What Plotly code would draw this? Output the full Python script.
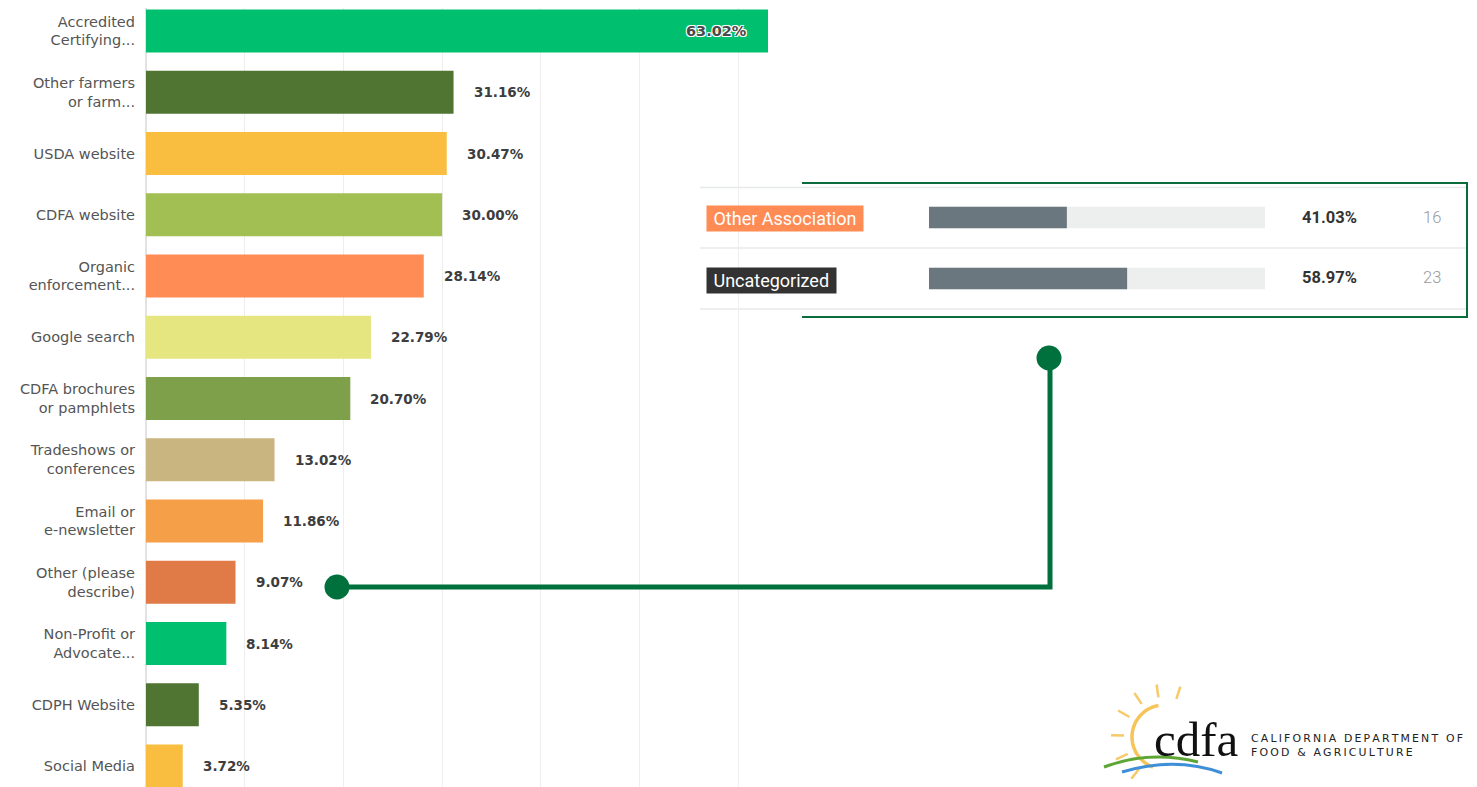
import math
import plotly.graph_objects as go

# page body adds an 8px margin; work in reference pixel space and shift
OX, OY = 8, 8
W, H = 1477 - 2 * OX, 787 - OY

# ---------------- data ----------------
categories = [
    "Accredited<br>Certifying...", "Other farmers<br>or farm...", "USDA website",
    "CDFA website", "Organic<br>enforcement...", "Google search",
    "CDFA brochures<br>or pamphlets", "Tradeshows or<br>conferences",
    "Email or<br>e-newsletter", "Other (please<br>describe)",
    "Non-Profit or<br>Advocate...", "CDPH Website", "Social Media",
]
values = [63.02, 31.16, 30.47, 30.00, 28.14, 22.79, 20.70, 13.02, 11.86, 9.07, 8.14, 5.35, 3.72]
bar_colors = ["#00BF6F", "#507432", "#F9BE3F", "#A2BF53", "#FF8B55", "#E6E680",
              "#7FA04A", "#C9B57F", "#F5A048", "#E07B47", "#00BF6F", "#507432", "#F9BE3F"]

inset_labels = ["Other Association", "Uncategorized"]
inset_pcts = [41.03, 58.97]
inset_counts = [16, 23]
inset_badge_colors = ["#FF8B55", "#333333"]


def px(x):
    return (x - OX) / W


def py(y):
    return 1 - (y - OY) / H


fig = go.Figure()

idx = list(range(len(categories)))

# main bar chart
fig.add_trace(go.Bar(
    x=values, y=idx, orientation="h",
    marker=dict(color=bar_colors, line=dict(width=0)),
    width=0.7, hoverinfo="skip", showlegend=False,
    xaxis="x", yaxis="y",
))

# inset track + fill bars
fig.add_trace(go.Bar(
    x=[100] * len(inset_labels), y=list(range(len(inset_labels))), orientation="h",
    marker=dict(color="#EDEFEF", line=dict(width=0)), width=0.35,
    hoverinfo="skip", showlegend=False, xaxis="x2", yaxis="y2",
))
fig.add_trace(go.Bar(
    x=inset_pcts, y=list(range(len(inset_labels))), orientation="h",
    marker=dict(color="#6B777E", line=dict(width=0)), width=0.35,
    hoverinfo="skip", showlegend=False, xaxis="x2", yaxis="y2",
))

annotations = []
vmax = max(values)
for i, v in enumerate(values):
    if v == vmax:
        annotations.append(dict(
            x=v, y=i, xref="x", yref="y", text=f"{v:.2f}%", showarrow=False,
            xanchor="right", yanchor="middle", xshift=-19,
            font=dict(family="DejaVu Sans", size=14.5, color="#4a4a4a", weight="bold",
                      shadow="1px 1px 0 #fff, -1px -1px 0 #fff, 1px -1px 0 #fff, -1px 1px 0 #fff"),
        ))
    else:
        annotations.append(dict(
            x=v, y=i, xref="x", yref="y", text=f"{v:.2f}%", showarrow=False,
            xanchor="left", yanchor="middle", xshift=18,
            font=dict(family="DejaVu Sans", size=13.5, color="#3d3d3d", weight="bold"),
        ))

# inset badges, percentages and counts
row_y = [218, 279]
for j, lab in enumerate(inset_labels):
    annotations.append(dict(
        x=px(706), y=py(row_y[j] + 1), xref="paper", yref="paper",
        text="\u00a0" + lab + "\u00a0", showarrow=False, xanchor="left", yanchor="middle",
        bgcolor=inset_badge_colors[j], borderpad=2,
        font=dict(family="Roboto", size=18, color="#ffffff"),
    ))
    annotations.append(dict(
        x=px(1300), y=py(row_y[j] - 1), xref="paper", yref="paper",
        text=f"{inset_pcts[j]:.2f}%", showarrow=False, xanchor="left", yanchor="middle",
        font=dict(family="Roboto", size=16.5, color="#333333", weight="bold"),
    ))
    annotations.append(dict(
        x=px(1421), y=py(row_y[j] - 1), xref="paper", yref="paper",
        text=str(inset_counts[j]), showarrow=False, xanchor="left", yanchor="middle",
        font=dict(family="Roboto", size=16.5, color="#9a9a9a", weight=300),
    ))

# logo text
annotations.append(dict(
    x=px(1152), y=py(739), xref="paper", yref="paper", text="cdfa", showarrow=False,
    xanchor="left", yanchor="middle",
    font=dict(family="Liberation Serif", size=49, color="#111111"),
))
thin = "\u2009"
line1 = thin.join("CALIFORNIA DEPARTMENT OF")
line2 = thin.join("FOOD & AGRICULTURE")
annotations.append(dict(
    x=px(1249), y=py(745), xref="paper", yref="paper", text=line1 + "<br>" + line2,
    showarrow=False, xanchor="left", yanchor="middle", align="left",
    font=dict(family="DejaVu Sans", size=10.9, color="#222222"),
))

shapes = []
sep_col = "#E7E9E9"
right_edge = 1467
for yy in [187.5, 248, 309]:
    shapes.append(dict(type="line", xref="paper", yref="paper",
                       x0=px(700), x1=px(right_edge), y0=py(yy), y1=py(yy),
                       line=dict(color=sep_col, width=1.5), layer="below"))
# green frame around inset
shapes.append(dict(type="path", xref="paper", yref="paper",
                   path=f"M {px(802)},{py(183)} L {px(right_edge)},{py(183)} L {px(right_edge)},{py(317)} L {px(802)},{py(317)}",
                   line=dict(color="#0B6B3A", width=2)))
# connector
green = "#00703C"
shapes.append(dict(type="path", xref="paper", yref="paper",
                   path=f"M {px(337)},{py(587)} L {px(1050)},{py(587)} L {px(1050)},{py(358)}",
                   line=dict(color=green, width=5)))
for cx, cy, r in [(337, 587, 12.5), (1049, 358, 12.5)]:
    shapes.append(dict(type="circle", xref="paper", yref="paper",
                       x0=px(cx - r), x1=px(cx + r), y0=py(cy + r), y1=py(cy - r),
                       fillcolor=green, line=dict(width=0)))

# logo sun arc
sun_c = (1164, 737)
R = 32
pts = []
for k in range(0, 31):
    a = math.radians(100 + k * (150 / 30))
    pts.append((sun_c[0] + R * math.cos(a), sun_c[1] - R * math.sin(a)))
path = "M " + " L ".join(f"{px(x)},{py(y)}" for x, y in pts)
shapes.append(dict(type="path", xref="paper", yref="paper", path=path,
                   line=dict(color="#F7C45A", width=3.5)))
for ang in [72, 98, 124, 150, 178, 205, 232]:
    a = math.radians(ang)
    x0 = sun_c[0] + 40 * math.cos(a)
    y0 = sun_c[1] - 40 * math.sin(a)
    x1 = sun_c[0] + 53 * math.cos(a)
    y1 = sun_c[1] - 53 * math.sin(a)
    shapes.append(dict(type="line", xref="paper", yref="paper",
                       x0=px(x0), y0=py(y0), x1=px(x1), y1=py(y1),
                       line=dict(color="#F7C968", width=2.5)))
# waves
shapes.append(dict(type="path", xref="paper", yref="paper",
                   path=f"M {px(1104)},{py(767)} Q {px(1150)},{py(750)} {px(1198)},{py(762)}",
                   line=dict(color="#5DA635", width=3)))
shapes.append(dict(type="path", xref="paper", yref="paper",
                   path=f"M {px(1122)},{py(772)} Q {px(1175)},{py(756)} {px(1222)},{py(773)}",
                   line=dict(color="#3F8FD8", width=3)))

x0_px = 146
scale = (768 - 146) / 63.02
x_end = 66
row0, row_step = 31, 61.25
y_top = (OY - row0) / row_step
y_bot = (OY + H - row0) / row_step
fig.update_layout(
    width=W, height=H, margin=dict(l=0, r=0, t=0, b=0),
    paper_bgcolor="white", plot_bgcolor="white",
    barmode="overlay", bargap=0.3,
    xaxis=dict(domain=[px(x0_px), px(x0_px + x_end * scale)], range=[0, x_end],
               dtick=10, showgrid=True, gridcolor="#EEEEEE", gridwidth=1,
               zeroline=True, zerolinecolor="#E2E2E2", zerolinewidth=1.5,
               showticklabels=False, ticks="", fixedrange=True),
    yaxis=dict(domain=[0, 1], range=[y_bot, y_top], tickvals=idx, ticktext=categories,
               showgrid=False, zeroline=False, ticks="", ticklabelstandoff=10,
               tickfont=dict(family="DejaVu Sans", size=14.5, color="#555555")),
    xaxis2=dict(domain=[px(929), px(1265)], range=[0, 100], anchor="y2",
                showgrid=False, zeroline=False, showticklabels=False, ticks=""),
    yaxis2=dict(domain=[py(309), py(187)], range=[1.5, -0.5], anchor="x2",
                showgrid=False, zeroline=False, showticklabels=False, ticks=""),
    annotations=annotations,
    shapes=shapes,
)

fig.write_html("out.html")
